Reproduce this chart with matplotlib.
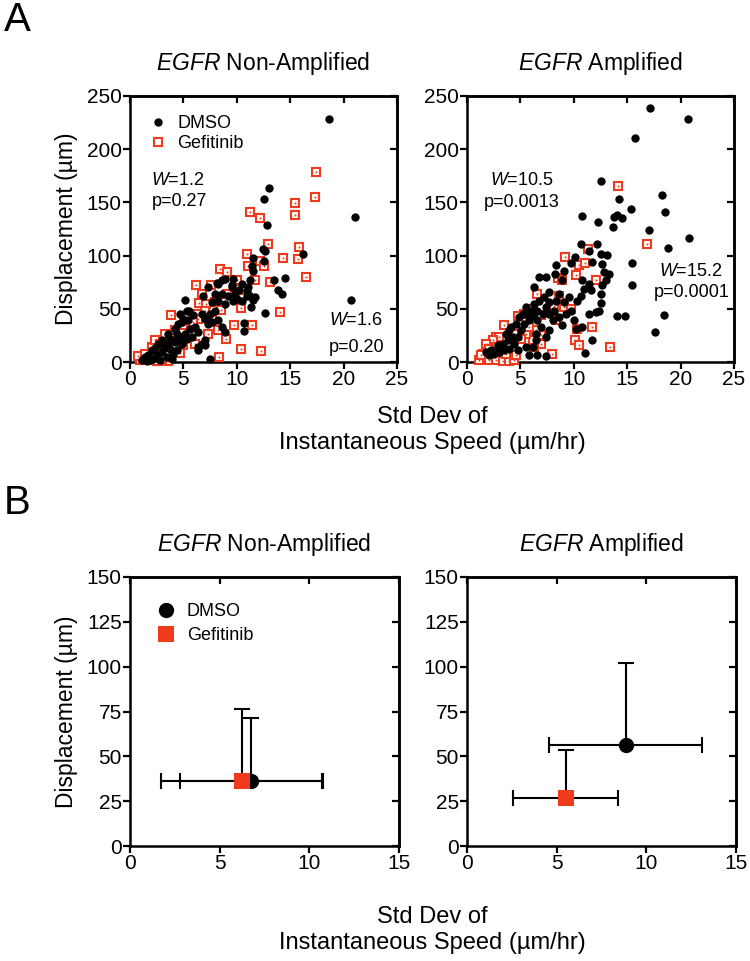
import matplotlib
matplotlib.use('Agg')
import matplotlib.pyplot as plt
from matplotlib.lines import Line2D

plt.rcParams['font.family'] = ['Liberation Sans', 'DejaVu Sans']
plt.rcParams['mathtext.fontset'] = 'custom'
plt.rcParams['mathtext.rm'] = 'Liberation Sans'
plt.rcParams['mathtext.it'] = 'Liberation Sans:italic'

RED = '#f03a1e'

# ---- panel A, EGFR non-amplified (std dev speed, displacement)
na_dmso_x = [18.66, 21.09, 20.72, 13.03, 12.56, 12.81, 12.41, 12.66, 12.56, 11.56, 11.41, 11.56, 16.19, 14.47,
             13.44, 13.84, 14.22, 12.63, 10.63, 10.63, 11.25, 10.94, 11.19, 11.56, 11.34, 8.13, 8.91, 9.53,
             9.84, 9.69, 8.59, 7.97, 7.66, 5.16, 5.31, 5.53, 4.84, 4.53, 4.22, 3.59, 2.97, 2.66, 2.34, 2.03,
             1.72, 1.41, 1.09, 3.28, 3.75, 4.06, 4.38, 3.91, 5.78, 6.41, 6.09, 6.41, 6.72, 7.03, 7.34, 7.19,
             7.5, 7.97, 8.28, 8.91, 8.59, 6.88, 8.28, 9.53, 10.0, 10.47, 10.94, 11.72, 7.5, 6.41, 7.03, 4.69,
             5.0, 5.47, 5.94, 6.72, 7.03, 7.66, 5.63, 5.16, 4.69, 4.22, 3.59, 2.97, 2.5, 2.19, 1.88, 1.56,
             2.81, 3.44, 3.91, 8.28, 8.91, 9.22, 10.16, 10.47, 11.09, 9.69, 8.59, 7.34, 4.38, 3.75, 3.13,
             5.31, 4.84]
na_dmso_y = [228.1, 135.9, 58.4, 163.4, 152.8, 129.1, 106.3, 104.1, 95.3, 97.5, 90.6, 85.9, 101.3, 79.1,
             76.6, 67.2, 64.1, 45.9, 36.6, 29.1, 76.6, 66.6, 61.6, 58.4, 51.6, 74.1, 78.1, 70.3,
             64.1, 57.8, 64.1, 64.1, 56.3, 58.4, 48.4, 47.8, 37.5, 35.9, 31.3, 26.6, 20.3, 17.2, 13.4, 10.9,
             6.3, 4.7, 2.2, 14.1, 12.5, 7.8, 10.9, 20.3, 23.4, 28.1, 32.8, 14.1, 17.2, 20.3, 35.9, 42.2,
             45.3, 48.4, 39.1, 28.1, 32.8, 62.5, 73.4, 71.9, 59.4, 57.8, 62.5, 60.9, 3.1, 10.9, 15.6, 45.3,
             40.6, 39.1, 43.8, 45.3, 40.6, 37.5, 31.3, 26.6, 23.4, 18.8, 17.2, 9.4, 6.3, 3.1, 1.6, 0.9,
             2.2, 4.7, 3.1, 57.8, 54.7, 62.5, 67.2, 73.4, 70.3, 78.1, 76.6, 70.3, 26.6, 21.9, 15.6,
             21.9, 17.2]
na_gef_x = [17.41, 17.28, 15.47, 15.47, 11.25, 12.19, 12.91, 15.78, 15.69, 14.31, 10.94, 12.19, 11.09,
            12.56, 16.47, 13.13, 11.66, 8.44, 9.06, 10.0, 7.59, 10.72, 6.16, 6.72, 6.5, 7.09, 8.5, 10.41,
            14.06, 9.78, 11.41, 8.97, 10.38, 12.28, 8.34, 3.81, 5.47, 6.25, 6.41, 7.66, 4.69, 3.28, 3.28,
            2.03, 1.72, 0.94, 1.25, 2.19, 2.66, 8.28, 7.34, 5.0, 6.09, 5.63, 7.03, 7.97, 9.06, 10.0, 0.78,
            1.41, 2.34, 2.81, 4.22, 5.0, 5.94, 2.5, 3.59, 2.97]
na_gef_y = [178.8, 154.7, 149.1, 138.1, 140.6, 135.3, 110.9, 107.8, 96.9, 97.8, 101.6, 95.3, 90.6,
            90.0, 80.3, 75.0, 77.2, 87.5, 85.0, 77.2, 72.8, 67.8, 71.9, 64.1, 55.3, 54.7, 49.1, 50.6,
            46.9, 34.4, 34.4, 21.9, 12.5, 10.3, 4.7, 43.8, 43.8, 45.3, 40.6, 39.1, 8.4, 26.6, 14.1,
            14.1, 4.7, 2.2, 1.6, 2.2, 0.9, 29.7, 26.6, 15.6, 17.2, 32.8, 48.4, 56.3, 64.1, 68.8, 5.3,
            7.8, 20.3, 17.2, 29.7, 34.4, 37.5, 0.6, 0.6, 3.1]

# ---- panel A, EGFR amplified
am_dmso_x = [17.13, 20.65, 15.7, 12.52, 18.29, 18.5, 14.24, 15.33, 10.81, 12.3, 13.77, 14.08, 14.49, 13.71,
             17.04, 20.78, 18.85, 15.42, 15.48, 18.41, 17.6, 14.08, 14.77, 11.03, 11.68, 10.65, 12.21, 11.43,
             12.52, 13.15, 11.74, 12.68, 12.83, 13.3, 12.99, 12.68, 12.52, 12.52, 12.37, 10.12, 9.72, 9.1,
             8.32, 6.76, 7.38, 6.29, 8.26, 8.94, 10.81, 10.97, 10.65, 10.34, 9.72, 9.25, 10.03, 10.19, 10.81,
             11.43, 12.06, 11.43, 11.59, 7.69, 8.63, 9.56, 9.1, 8.32, 7.69, 7.23, 6.76, 6.29, 5.98, 5.67,
             5.83, 5.36, 5.05, 4.74, 4.42, 3.96, 3.49, 3.02, 2.55, 2.09, 5.83, 6.6, 7.38, 7.69, 7.38, 6.45,
             6.14, 5.51, 4.74, 3.96, 4.27, 4.58, 4.89, 5.2, 5.51, 3.8, 3.33, 4.11, 3.64, 6.14, 6.6, 7.07,
             6.92, 6.45, 7.69, 8.01, 8.16, 8.63, 8.94, 7.38, 6.6, 2.87, 2.24, 1.78, 2.87]
am_dmso_y = [239.0, 228.0, 210.3, 170.3, 157.2, 140.6, 153.1, 143.8, 137.5, 131.9, 135.9, 138.4, 135.3, 126.6,
             124.1, 116.3, 107.2, 92.8, 72.8, 44.4, 28.1, 42.8, 42.8, 8.8, 20.3, 110.9, 110.9, 104.7,
             101.6, 100.9, 93.8, 92.2, 84.4, 82.8, 76.6, 71.9, 64.1, 55.3, 48.4, 98.4, 92.8, 85.9,
             91.6, 79.7, 79.7, 70.3, 82.8, 76.6, 76.6, 68.8, 62.5, 57.8, 48.4, 45.3, 39.1, 31.3, 32.8,
             45.3, 46.9, 73.4, 67.2, 65.6, 64.1, 60.9, 56.3, 57.8, 56.3, 60.9, 57.8, 54.7, 48.4, 45.3,
             39.1, 35.9, 29.7, 23.4, 17.2, 12.5, 10.9, 9.4, 7.8, 6.3, 6.3, 6.3, 5.3, 29.7, 23.4, 20.3,
             14.1, 14.1, 10.9, 29.7, 23.4, 35.9, 42.2, 45.3, 51.6, 20.3, 17.2, 32.8, 26.6, 43.8, 39.1, 45.3,
             32.8, 26.6, 45.3, 39.1, 48.4, 42.2, 34.4, 51.6, 48.4, 12.5, 10.9, 9.4, 15.6]
am_gef_x = [14.14, 16.88, 11.34, 9.16, 10.5, 8.54, 8.94, 12.06, 6.57, 8.63, 8.16, 9.1, 9.78, 4.74, 5.36,
            5.83, 6.45, 6.92, 8.32, 3.43, 11.68, 10.28, 10.12, 10.5, 13.4, 7.94, 6.92, 6.92, 6.29, 6.14,
            6.45, 2.71, 3.02, 2.4, 1.78, 1.46, 1.15, 1.31, 2.09, 2.71, 3.33, 3.96, 4.42, 4.58, 3.64, 3.02,
            2.55, 2.09, 5.51, 5.83, 5.05, 4.42, 10.19, 11.06]
am_gef_y = [165.6, 110.9, 106.3, 99.1, 91.6, 79.1, 76.6, 77.2, 64.1, 62.5, 53.1, 51.6, 50.0, 42.8, 45.3,
            50.0, 45.3, 43.8, 39.7, 34.4, 32.8, 31.3, 20.3, 15.6, 14.1, 7.2, 25.0, 17.2, 14.1, 20.3,
            29.7, 23.4, 23.4, 20.3, 17.2, 7.8, 1.6, 6.3, 1.6, 1.6, 0.6, 0.6, 1.6, 6.3, 7.8, 14.1,
            14.1, 12.5, 26.6, 32.8, 21.9, 26.6, 81.3, 92.8]

# ---- panel B, mean and SD
b_groups = ['DMSO', 'Gefitinib']
b_na_x = [6.75, 6.25]
b_na_xsd = [3.95, 4.5]
b_na_y = [36.3, 36.3]
b_na_ysd = [35.0, 40.0]
b_am_x = [8.85, 5.5]
b_am_xsd = [4.25, 2.92]
b_am_y = [56.5, 27.0]
b_am_ysd = [45.5, 26.5]

titles = [r'$\mathit{EGFR}$ Non-Amplified', r'$\mathit{EGFR}$ Amplified']

fig = plt.figure(figsize=(7.5, 9.61), dpi=100)
W, H = 750.0, 961.0


def box(ax, xmax, xstep, ymax, ystep):
    ax.set_xlim(0, xmax)
    ax.set_ylim(0, ymax)
    xt = list(range(0, xmax + 1, xstep))
    yt = list(range(0, ymax + 1, ystep))
    ax.set_xticks(xt)
    ax.set_yticks(yt)
    for s in ax.spines.values():
        s.set_linewidth(1.8)
    ax.tick_params(direction='out', length=5, width=1.6, labelsize=15, pad=1)
    top = ax.secondary_xaxis('top')
    top.set_xticks(xt)
    top.set_xticklabels([])
    top.tick_params(direction='in', length=5, width=1.6)
    top.spines['top'].set_linewidth(1.8)
    right = ax.secondary_yaxis('right')
    right.set_yticks(yt)
    right.set_yticklabels([])
    right.tick_params(direction='in', length=5, width=1.6)
    right.spines['right'].set_linewidth(1.8)


def scatter_panel(ax, dx, dy, gx, gy):
    ax.plot(gx, gy, 's', ms=6, mfc='white', mec=RED, mew=1.5, clip_on=False, zorder=3)
    ax.plot(gx, gy, 's', ms=1.3, mfc=RED, mec=RED, mew=0, clip_on=False, zorder=3)
    ax.plot(dx, dy, 'o', ms=6, color='black', mew=0, clip_on=False, zorder=4)


# panel A
axA1 = fig.add_axes([130 / W, 1 - 362 / H, 267 / W, 266 / H])
axA2 = fig.add_axes([467 / W, 1 - 362 / H, 267 / W, 266 / H])
scatter_panel(axA1, na_dmso_x, na_dmso_y, na_gef_x, na_gef_y)
scatter_panel(axA2, am_dmso_x, am_dmso_y, am_gef_x, am_gef_y)
for ax, t in zip([axA1, axA2], titles):
    box(ax, 25, 5, 250, 50)
    ax.set_title(t, fontsize=16.5, pad=19)
axA1.set_ylabel('Displacement (µm)', fontsize=16.5, labelpad=6)

h1 = Line2D([], [], marker='o', ls='', ms=6, color='black', mew=0)
h2 = Line2D([], [], marker='s', ls='', ms=6, mfc='white', mec=RED, mew=1.5)
axA1.legend([h1, h2], b_groups, loc='upper left', frameon=False, fontsize=13,
            handlelength=1.0, handletextpad=0.6, borderaxespad=0, borderpad=0,
            labelspacing=0.2, bbox_to_anchor=(0.07, 0.929))

axA1.text(2.0, 171, r'$\mathit{W}$=1.2', fontsize=13, va='center')
axA1.text(2.0, 151, 'p=0.27', fontsize=13, va='center')
axA1.text(18.6, 39, r'$\mathit{W}$=1.6', fontsize=13, va='center')
axA1.text(18.6, 14, 'p=0.20', fontsize=13, va='center')
axA2.text(5.1, 171, r'$\mathit{W}$=10.5', fontsize=13, va='center', ha='center')
axA2.text(5.1, 150, 'p=0.0013', fontsize=13, va='center', ha='center')
axA2.text(21.0, 85, r'$\mathit{W}$=15.2', fontsize=13, va='center', ha='center')
axA2.text(21.0, 65, 'p=0.0001', fontsize=13, va='center', ha='center')

# panel B
axB1 = fig.add_axes([130 / W, 1 - 846 / H, 269 / W, 269 / H])
axB2 = fig.add_axes([467 / W, 1 - 846 / H, 269 / W, 269 / H])
styles = [dict(marker='o', color='black'), dict(marker='s', color=RED)]
for ax, xs, xsd, ys, ysd in [(axB1, b_na_x, b_na_xsd, b_na_y, b_na_ysd),
                             (axB2, b_am_x, b_am_xsd, b_am_y, b_am_ysd)]:
    for i in range(2):
        ax.errorbar(xs[i], ys[i], xerr=xsd[i], yerr=[[0], [ysd[i]]], fmt='none',
                    ecolor='black', elinewidth=1.5, capsize=5.5, capthick=1.5, zorder=2)
    for i in range(2):
        ax.plot(xs[i], ys[i], ls='', ms=11, mew=0, zorder=3 + i, **styles[i])
for ax, t in zip([axB1, axB2], titles):
    box(ax, 15, 5, 150, 25)
    ax.set_title(t, fontsize=16.5, pad=19)
axB1.set_ylabel('Displacement (µm)', fontsize=16.5, labelpad=6)

hb1 = Line2D([], [], marker='o', ls='', ms=11, color='black', mew=0)
hb2 = Line2D([], [], marker='s', ls='', ms=11, color=RED, mew=0)
axB1.legend([hb1, hb2], b_groups, loc='upper left', frameon=False, fontsize=13,
            handlelength=1.0, handletextpad=0.65, borderaxespad=0, borderpad=0,
            labelspacing=0.39, bbox_to_anchor=(0.10, 0.903))

# shared x labels and panel letters
xc = (130 + 734) / 2 / W
fig.text(xc, 1 - 430 / H, 'Std Dev of\nInstantaneous Speed (µm/hr)', ha='center', va='center',
         fontsize=17, linespacing=1.2)
fig.text(xc, 1 - 930 / H, 'Std Dev of\nInstantaneous Speed (µm/hr)', ha='center', va='center',
         fontsize=17, linespacing=1.2)
fig.text(4 / W, 1 - 20 / H, 'A', fontsize=29, va='center', ha='left')
fig.text(4 / W, 1 - 503 / H, 'B', fontsize=29, va='center', ha='left')

fig.savefig('out.png', dpi=100)
